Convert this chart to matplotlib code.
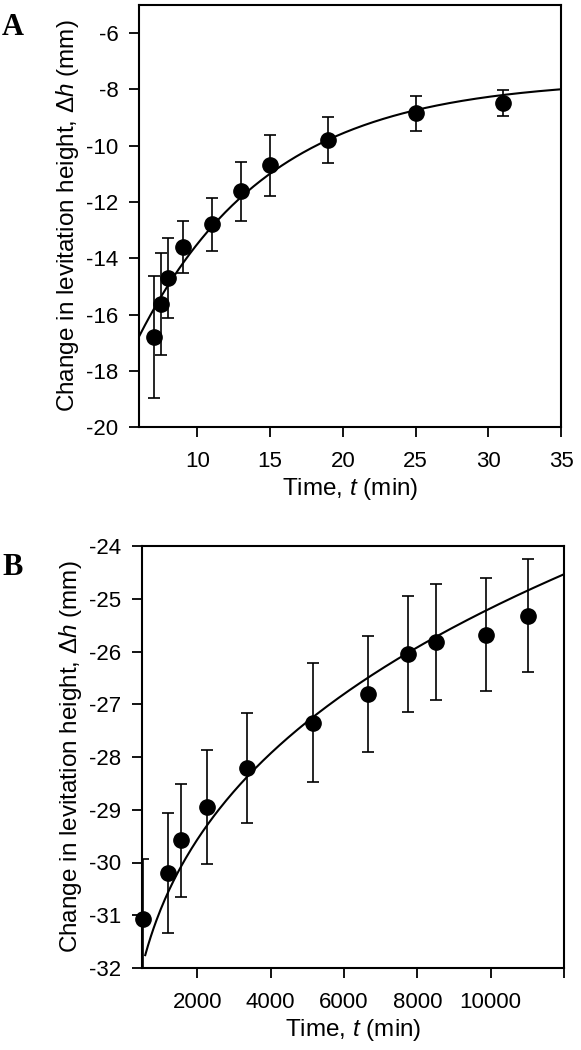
#!/usr/bin/python3

import numpy as np
import matplotlib
matplotlib.use('Agg')
import matplotlib.pyplot as plt

plt.rcParams['font.family'] = ['Liberation Sans', 'DejaVu Sans']
plt.rcParams['mathtext.fontset'] = 'custom'
plt.rcParams['mathtext.rm'] = 'Liberation Sans'
plt.rcParams['mathtext.it'] = 'Liberation Sans:italic'

# panel A : short times (min)
timeA = [7, 7.5, 8, 9, 11, 13, 15, 19, 25, 31]
dhA = [-16.78, -15.62, -14.68, -13.6, -12.79, -11.62, -10.7, -9.8, -8.85, -8.49]
errA = [2.17, 1.82, 1.42, 0.93, 0.94, 1.06, 1.09, 0.81, 0.61, 0.46]
# fit: dh = a + b*exp(-t/tau)
fitA = {'a': -7.63, 'b': -17.78, 'tau': 9.0, 'tStart': 6, 'tEnd': 35}

# panel B : long times (min)
timeB = [530, 1190, 1550, 2275, 3350, 5150, 6660, 7750, 8500, 9860, 11020]
dhB = [-31.07, -30.2, -29.58, -28.94, -28.21, -27.35, -26.81, -26.05, -25.82, -25.68, -25.32]
errB = [1.14, 1.13, 1.07, 1.08, 1.05, 1.13, 1.1, 1.1, 1.1, 1.07, 1.07]
# fit: dh = a + c*t^p
fitB = {'a': -36.63, 'c': 0.7225, 'p': 0.3, 'tStart': 580, 'tEnd': 12000}

TICK_SIZE = 16
LABEL_SIZE = 17.5


def stylePanel(ax, xlim, ylim, xticks, yticks, xticklabels=None):
    ax.set_xlim(xlim)
    ax.set_ylim(ylim)
    ax.set_xticks(xticks)
    if xticklabels is not None:
        ax.set_xticklabels(xticklabels)
    ax.set_yticks(yticks)
    ax.set_yticklabels(['%d' % v for v in yticks])
    for side in ['left', 'right', 'top', 'bottom']:
        ax.spines[side].set_linewidth(1.5)
    ax.tick_params(axis='both', direction='out', length=7, width=1.3,
                   labelsize=TICK_SIZE)
    ax.tick_params(axis='x', pad=10)
    ax.tick_params(axis='y', pad=8)
    ax.set_xlabel(r'Time, $\mathit{t}$ (min)', fontsize=LABEL_SIZE, labelpad=3)
    ax.set_ylabel(r'Change in levitation height, $\mathit{\Delta h}$ (mm)',
                  fontsize=LABEL_SIZE, labelpad=4)


def plotPoints(ax, t, dh, err):
    ax.errorbar(t, dh, yerr=err, fmt='none', ecolor='black', elinewidth=1.2,
                capsize=4.5, capthick=1.2, zorder=2)
    ax.plot(t, dh, 'o', color='black', markersize=11, zorder=3, clip_on=False)


fig = plt.figure(figsize=(5.81, 10.5), dpi=100)
axA = fig.add_axes([139.3/581, 1-427.3/1050, 421.7/581, 422.3/1050])
axB = fig.add_axes([142.3/581, 1-968/1050, 421.7/581, 422/1050])

# A
tt = np.linspace(fitA['tStart'], fitA['tEnd'], 300)
axA.plot(tt, fitA['a'] + fitA['b']*np.exp(-tt/fitA['tau']), color='black', lw=1.5, zorder=1)
plotPoints(axA, timeA, dhA, errA)
stylePanel(axA, (6, 35), (-20, -5), [10, 15, 20, 25, 30, 35], list(range(-20, -5, 2)))

# B
tt = np.linspace(fitB['tStart'], fitB['tEnd'], 300)
axB.plot(tt, fitB['a'] + fitB['c']*tt**fitB['p'], color='black', lw=1.5, zorder=1)
plotPoints(axB, timeB, dhB, errB)
stylePanel(axB, (500, 12000), (-32, -24), [2000, 4000, 6000, 8000, 10000, 12000],
           list(range(-32, -23, 1)),
           xticklabels=['2000', '4000', '6000', '8000', '10000', ''])

fig.text(2/581, 1-35/1050, 'A', fontsize=22, fontweight='bold',
         family='Liberation Serif', va='baseline')
fig.text(2/581, 1-575/1050, 'B', fontsize=22, fontweight='bold',
         family='Liberation Serif', va='baseline')

fig.savefig('out.png', dpi=100)
